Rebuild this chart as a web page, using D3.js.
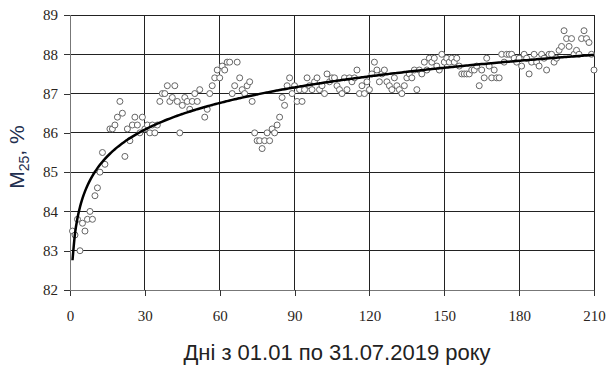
<!DOCTYPE html>
<html>
<head>
<meta charset="utf-8">
<script src="https://cdn.jsdelivr.net/npm/d3@7"></script>
<style>
    body { margin: 0; background: #fff; }
    svg { display: block; }
</style>
</head>
<body>
<svg width="609" height="365"></svg>
<script>
const days = [
    1, 2, 3, 4, 5, 6, 7, 8, 9, 10, 11, 12, 13, 14, 16, 17, 18, 19, 20, 21,
    22, 23, 24, 25, 26, 27, 28, 29, 30, 31, 32, 33, 34, 35, 36, 37, 38, 39, 40, 41,
    42, 43, 44, 45, 46, 47, 48, 49, 50, 51, 52, 54, 55, 56, 57, 58, 59, 60, 61, 62,
    63, 64, 65, 66, 67, 68, 69, 70, 71, 72, 73, 74, 75, 76, 77, 78, 79, 80, 81, 82,
    83, 84, 85, 86, 87, 88, 89, 90, 91, 92, 93, 94, 95, 96, 97, 98, 99, 100, 101, 102,
    103, 104, 105, 106, 107, 108, 109, 110, 111, 112, 113, 114, 115, 116, 117, 118, 119, 120, 121, 122,
    123, 124, 125, 126, 127, 128, 129, 130, 131, 132, 133, 134, 135, 136, 137, 138, 139, 140, 141, 142,
    143, 144, 145, 146, 147, 148, 149, 150, 151, 152, 153, 154, 155, 156, 157, 158, 159, 160, 161, 162,
    163, 164, 165, 166, 167, 168, 169, 170, 171, 172, 173, 174, 175, 176, 177, 178, 179, 180, 181, 182,
    183, 184, 185, 186, 187, 188, 189, 190, 191, 192, 193, 194, 195, 196, 197, 198, 199, 200, 201, 202,
    203, 204, 205, 206, 207, 208, 209, 210
];
const m25 = [
    83.5, 83.4, 83.8, 83.0, 83.7, 83.5, 83.8, 84.0, 83.8, 84.4, 84.6, 85.0, 85.5, 85.2, 86.1, 86.1, 86.2, 86.4, 86.8, 86.5,
    85.4, 86.1, 85.8, 86.2, 86.4, 86.2, 86.0, 86.4, 86.1, 86.2, 86.0, 86.2, 86.0, 86.2, 86.8, 87.0, 87.0, 87.2, 86.8, 86.9,
    87.2, 86.8, 86.0, 86.7, 86.9, 86.8, 86.6, 86.8, 87.0, 86.8, 87.1, 86.4, 86.6, 87.0, 87.2, 87.4, 87.6, 87.4, 87.7, 87.6,
    87.8, 87.8, 87.0, 87.2, 87.8, 87.4, 87.1, 87.0, 87.2, 87.3, 86.8, 86.0, 85.8, 85.8, 85.6, 85.8, 86.0, 85.8, 86.1, 86.0,
    86.2, 86.4, 86.9, 86.7, 87.2, 87.4, 87.0, 87.2, 86.8, 87.1, 86.8, 87.1, 87.4, 87.2, 87.1, 87.3, 87.4, 87.1, 87.2, 87.0,
    87.5, 87.3, 87.4, 87.4, 87.2, 87.1, 87.0, 87.4, 87.1, 87.4, 87.3, 87.4, 87.6, 87.0, 87.2, 87.0, 87.3, 87.1, 87.5, 87.8,
    87.6, 87.3, 87.5, 87.6, 87.3, 87.2, 87.1, 87.4, 87.2, 87.1, 87.0, 87.2, 87.4, 87.5, 87.4, 87.6, 87.1, 87.6, 87.5, 87.8,
    87.6, 87.9, 87.8, 87.9, 87.7, 87.6, 88.0, 87.8, 87.9, 87.8, 87.9, 87.8, 87.9, 87.7, 87.5, 87.5, 87.5, 87.5, 87.6, 87.6,
    87.7, 87.2, 87.6, 87.4, 87.9, 87.7, 87.4, 87.6, 87.4, 87.4, 88.0, 87.8, 88.0, 88.0, 88.0, 87.9, 87.8, 87.9, 87.7, 88.0,
    87.9, 87.5, 87.8, 88.0, 87.8, 87.7, 88.0, 87.9, 87.6, 88.0, 88.0, 87.8, 87.9, 88.1, 88.2, 88.6, 88.4, 88.2, 88.4, 88.0,
    88.1, 88.0, 88.4, 88.6, 88.4, 88.3, 88.0, 87.6
];

const xTicks = [0, 30, 60, 90, 120, 150, 180, 210];
const yTicks = [82, 83, 84, 85, 86, 87, 88, 89];
const xTitle = 'Дні з 01.01 по 31.07.2019 року';

class ScatterPlot {
    constructor() {
        this.svg = d3.select('svg');
        this.margin = { top: 15, right: 15, bottom: 75, left: 70 }; // plot box inside the svg
        this.width = 609 - this.margin.left - this.margin.right;
        this.height = 365 - this.margin.top - this.margin.bottom;
        this.dataset = days.map((d, i) => [d, m25[i]]);
    }

    draw = () => {
        this.setScales();
        this.g = this.svg.append('g')
            .attr('transform', `translate(${this.margin.left},${this.margin.top})`);
        this.drawGrid();
        this.drawAxes();
        this.drawPoints();
        this.drawTrend();
        this.drawTitles();
    }

    setScales = () => {
        this.xScale = d3.scaleLinear().domain([0, 210]).range([0, this.width]);
        this.yScale = d3.scaleLinear().domain([82, 89]).range([this.height, 0]);
    }

    drawGrid = () => {
        // horizontal lines
        this.g.append('g').selectAll('line')
            .data(yTicks.slice(1))
            .join('line')
            .attr('x1', 0).attr('x2', this.width)
            .attr('y1', d => this.yScale(d)).attr('y2', d => this.yScale(d))
            .attr('stroke', '#222').attr('stroke-width', 1)
            .attr('shape-rendering', 'crispEdges');
        // vertical lines
        this.g.append('g').selectAll('line')
            .data(xTicks.slice(1))
            .join('line')
            .attr('x1', d => this.xScale(d)).attr('x2', d => this.xScale(d))
            .attr('y1', 0).attr('y2', this.height)
            .attr('stroke', '#222').attr('stroke-width', 1)
            .attr('shape-rendering', 'crispEdges');
    }

    drawAxes = () => {
        const xAxis = d3.axisBottom(this.xScale).tickValues(xTicks)
            .tickFormat(d3.format('d')).tickSize(6).tickPadding(14);
        const yAxis = d3.axisLeft(this.yScale).tickValues(yTicks)
            .tickFormat(d3.format('d')).tickSize(6).tickPadding(6);

        const gx = this.g.append('g')
            .attr('transform', `translate(0,${this.height})`)
            .call(xAxis);
        const gy = this.g.append('g').call(yAxis);

        [gx, gy].forEach(a => {
            a.select('.domain').attr('stroke', '#777').attr('shape-rendering', 'crispEdges');
            a.selectAll('.tick line').attr('stroke', '#333').attr('shape-rendering', 'crispEdges');
            a.selectAll('text')
                .attr('fill', '#2a2420')
                .style('font-family', '"Liberation Serif", "Times New Roman", serif')
                .style('font-size', '15px');
        });
    }

    drawPoints = () => {
        this.g.append('g').selectAll('circle')
            .data(this.dataset)
            .join('circle')
            .attr('cx', d => this.xScale(d[0]))
            .attr('cy', d => this.yScale(d[1]))
            .attr('r', 3)
            .attr('fill', '#fff')
            .attr('stroke', '#666')
            .attr('stroke-width', 1);
    }

    drawTrend = () => {
        // logarithmic least squares trend: y = a + b ln(x)
        const lx = this.dataset.map(d => Math.log(d[0]));
        const ys = this.dataset.map(d => d[1]);
        const mx = d3.mean(lx), my = d3.mean(ys);
        let sxy = 0, sxx = 0;
        lx.forEach((v, i) => { sxy += (v - mx) * (ys[i] - my); sxx += (v - mx) ** 2; });
        const b = sxy / sxx;
        const a = my - b * mx;

        const line = d3.line()
            .x(d => this.xScale(d))
            .y(d => this.yScale(a + b * Math.log(d)))
            .curve(d3.curveMonotoneX);

        this.g.append('path')
            .datum(days)
            .attr('d', line)
            .attr('fill', 'none')
            .attr('stroke', '#000')
            .attr('stroke-width', 2.5);
    }

    drawTitles = () => {
        this.svg.append('text')
            .attr('x', 337)
            .attr('y', 360)
            .attr('text-anchor', 'middle')
            .attr('fill', '#222')
            .style('font-family', '"Liberation Sans", Arial, sans-serif')
            .style('font-size', '22px')
            .text(xTitle);

        const yl = this.svg.append('text')
            .attr('transform', `translate(24,${this.margin.top + 142}) rotate(-90)`)
            .attr('text-anchor', 'middle')
            .attr('fill', '#1f2f4f')
            .style('font-family', '"Liberation Sans", Arial, sans-serif')
            .style('font-size', '21px');
        yl.append('tspan').text('M');
        yl.append('tspan').attr('dy', 5).style('font-size', '14px').text('25');
        yl.append('tspan').attr('dy', -5).text(', %');
    }
}

new ScatterPlot().draw();
</script>
</body>
</html>
